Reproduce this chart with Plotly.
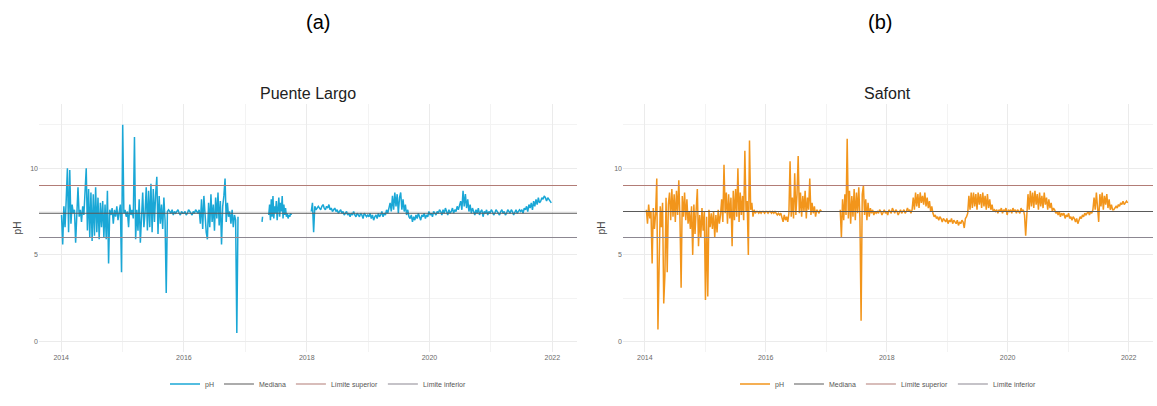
import pandas as pd
import plotly.graph_objects as go

# ---------------- data (weekly readings) ----------------
pl_seg1_start = "2014-01-03"
pl_seg1 = [7.3, 5.6, 7.8, 6.6, 8.2, 10.0, 6.3, 9.9, 6.8, 7.9,
           7.4, 7.6, 5.7, 7.5, 8.9, 7.2, 7.6, 6.9, 7.8, 7.3,
           8.4, 10.0,
           6.4, 8.8, 6.0, 8.6, 5.8, 8.5, 6.1, 8.9, 6.3, 8.3, 5.9, 8.0, 6.6,
           8.1, 6.0, 7.9, 5.9, 8.7, 4.5, 7.6,
           7.3, 7.7, 6.8, 7.6, 7.2, 7.8, 7.0, 7.5, 7.9, 4.0,
           12.5,
           7.4, 7.6, 7.2, 7.5, 6.6, 7.9, 7.3, 7.6, 7.1,
           11.8, 5.9,
           7.6, 6.4, 8.2, 5.7, 7.5, 8.6, 6.6, 7.4,
           8.9, 6.4, 8.7, 6.6, 9.1, 6.3, 8.8, 6.9, 8.5, 9.5, 6.2, 8.4, 6.8,
           7.9, 6.5, 8.3, 7.0, 2.8, 7.5, 7.6,
           7.5, 7.4, 7.6, 7.3, 7.5, 7.4, 7.5, 7.6, 7.4, 7.3, 7.5, 7.4,
           7.4, 7.5, 7.3, 7.4, 7.6, 7.5, 7.4, 7.3, 7.5, 7.4, 7.6, 7.5, 7.4,
           7.6, 6.8, 8.2, 6.5, 8.4, 7.0, 6.3, 5.9, 8.0, 6.6, 8.5, 6.9, 7.9, 6.4,
           8.3, 7.1, 8.6, 6.7, 8.1, 5.6, 7.8, 8.4, 9.4, 6.9, 8.0, 7.2, 7.5,
           6.8, 7.6, 6.6, 7.3, 7.0, 0.5, 7.2]
pl_seg2_start = "2017-04-10"
pl_seg2 = [6.9, 7.2]
pl_seg3_start = "2017-05-20"
pl_seg3 = [7.3, 7.9, 7.0, 8.2, 7.2, 8.4, 7.1, 7.8, 7.4, 8.1, 7.0, 7.6, 8.3, 7.2,
           8.0, 7.5, 8.4, 7.1, 7.9, 7.3, 7.7, 7.2, 7.4, 7.1, 7.3, 7.2, 7.4, 7.3]
pl_seg4_start = "2018-01-28"
pl_seg4 = [7.5, 8.0, 6.3, 7.8, 7.6, 7.7,
           7.8, 7.7, 7.6, 7.8, 7.9, 7.7, 7.6, 7.8, 7.7, 7.9, 7.6, 7.7, 7.5, 7.6,
           7.7, 7.5, 7.6, 7.4, 7.5, 7.6, 7.4, 7.5, 7.3, 7.4, 7.5, 7.3, 7.4, 7.2,
           7.4, 7.3, 7.5, 7.3, 7.2, 7.4, 7.3, 7.2, 7.4, 7.3, 7.1, 7.4, 7.3, 7.2,
           7.3, 7.2, 7.4, 7.1, 7.3, 7.0, 7.2, 7.3, 7.1, 7.4, 7.2, 7.3, 7.5, 7.2,
           7.4, 7.3, 7.6, 7.4, 7.7,
           8.0, 7.5, 8.4, 7.6, 8.6, 7.8, 8.5, 7.4, 8.3, 8.6, 7.6, 8.2, 7.5, 7.9,
           7.3, 7.6, 7.2,
           7.1, 7.3, 6.9, 7.2, 7.0, 7.3, 7.1, 7.4, 7.2, 7.0, 7.3, 7.2, 7.4, 7.1,
           7.3, 7.2, 7.5, 7.3, 7.4, 7.2, 7.5, 7.4, 7.3, 7.5, 7.4, 7.6,
           7.5, 7.3, 7.6, 7.4, 7.7, 7.5, 7.3, 7.6, 7.4, 7.5, 7.7, 7.4, 7.6, 7.5,
           7.8, 7.6, 7.9,
           8.1, 7.6, 8.7, 7.8, 8.5, 7.7, 8.2, 7.5, 7.9, 7.4, 7.7,
           7.5, 7.3, 7.6, 7.4, 7.7, 7.3, 7.5, 7.6, 7.2, 7.5, 7.4, 7.6, 7.3, 7.5,
           7.4, 7.6, 7.5, 7.3, 7.4, 7.6, 7.5, 7.4, 7.3, 7.5, 7.6, 7.4, 7.5, 7.3,
           7.4, 7.6, 7.5, 7.4, 7.6, 7.5, 7.3, 7.5, 7.6, 7.4, 7.5, 7.6,
           7.5, 7.6, 7.4, 7.7, 7.6, 7.8, 7.5, 7.9, 7.7, 8.0, 7.6, 8.1, 7.8, 8.2,
           7.9, 8.3, 8.0, 8.1, 8.3, 8.2, 8.4, 8.3, 8.1, 8.3, 8.2, 8.1, 8.0]

sf_seg1_start = "2014-01-10"
sf_seg1 = [7.6, 6.8, 7.9, 7.1, 7.5,
           4.5, 7.7, 6.5,
           7.4, 9.4, 0.7, 5.5, 7.8,
           6.6, 8.0, 2.2, 3.8, 8.3, 4.0, 7.9,
           8.6, 7.0, 8.8, 7.2, 8.5, 6.9, 8.7, 7.3, 9.3, 7.1, 3.1, 8.4,
           7.2, 8.6, 7.0, 8.2, 6.8, 7.5,
           6.5, 7.8, 5.0, 7.9, 6.2, 7.6, 8.8, 5.5, 7.3, 6.0, 7.7, 6.4, 7.5, 2.4,
           7.2, 2.6, 7.6, 6.6, 7.4,
           6.5, 7.5, 6.0, 7.3, 6.3, 7.6, 6.8,
           7.3, 8.2, 6.9, 10.2, 7.4, 8.6, 6.8, 8.5, 7.1, 8.3, 5.5, 8.7, 7.0,
           8.8, 7.2, 10.0, 6.9, 8.6, 7.3, 8.4, 7.0, 11.0, 7.5, 8.1, 5.0, 11.6,
           7.6, 8.0, 7.2, 7.6, 7.4, 7.5, 7.5, 7.4, 7.5, 7.4, 7.5, 7.5, 7.4, 7.5,
           7.5, 7.4, 7.5, 7.5, 7.4, 7.5, 7.4, 7.5, 7.4, 7.3, 7.4, 7.3, 7.4,
           7.1, 6.9, 7.3, 7.0, 7.2, 6.9,
           7.4, 10.4, 7.2, 8.3, 7.1, 9.7, 7.3, 8.5, 10.7, 7.4, 8.6, 7.2, 8.4,
           7.5, 8.7, 7.1, 8.3, 7.6, 9.4, 7.3, 8.0, 7.4, 7.8, 7.2, 7.6,
           7.5, 7.4, 7.6, 7.5]
sf_seg2_start = "2017-03-26"
sf_seg2 = [7.6, 6.0, 8.2, 7.0, 8.5, 7.3, 11.7, 7.1, 8.7, 6.8, 8.4, 7.2, 8.8, 7.0,
           8.6, 7.4, 8.9, 7.1, 1.2, 8.5, 9.0, 7.3, 8.2, 7.0, 8.0, 7.2, 7.7, 7.4,
           7.6, 7.3, 7.5, 7.4,
           7.5, 7.4, 7.6, 7.5, 7.3, 7.5, 7.6, 7.4, 7.5, 7.3, 7.6, 7.5, 7.4, 7.7,
           7.5, 7.4, 7.6, 7.5, 7.3, 7.5, 7.6, 7.4, 7.5, 7.6, 7.4, 7.5, 7.7, 7.5,
           7.6, 7.4, 7.6,
           8.3, 7.6, 8.6, 7.8, 8.5, 7.7, 8.6, 8.0, 8.4, 7.9, 8.6, 7.8, 8.3, 7.7,
           8.1, 7.5, 7.8,
           7.4, 7.2, 7.3, 7.1, 7.2, 7.0, 7.2, 7.1, 6.9, 7.1, 7.0, 6.9, 7.1, 6.8,
           7.0, 6.9, 7.1, 6.8, 7.0, 6.9, 6.8, 7.0, 6.7, 6.9, 6.8, 7.0, 6.9, 6.55,
           7.1, 7.2, 7.4,
           8.4, 7.6, 8.6, 7.7, 8.6, 7.8, 8.5, 7.6, 8.6, 7.9, 8.5, 7.7, 8.6, 7.8,
           8.4, 7.6, 8.5, 7.7, 8.2, 7.6, 7.9, 7.5, 7.6,
           7.5, 7.6, 7.4, 7.6, 7.5, 7.7, 7.4, 7.6, 7.5, 7.7, 7.3, 7.6, 7.5, 7.6,
           7.4, 7.7, 7.5, 7.6, 7.4, 7.6, 7.5, 7.4, 7.7, 7.5, 7.6, 7.3, 6.1, 7.5,
           8.5, 7.6, 8.7, 7.8, 8.6, 7.7, 8.7, 7.9, 8.5, 7.6, 8.6, 7.8, 8.4, 7.7,
           8.6, 7.9, 8.3, 7.6, 8.2, 7.7, 8.0, 7.5, 7.7,
           7.6, 7.4, 7.5, 7.3, 7.5, 7.2, 7.4, 7.3, 7.4, 7.1, 7.3, 7.2, 7.4, 7.1,
           7.2, 7.0, 7.2, 7.1, 6.9, 7.1, 6.8, 7.0, 7.2, 7.1, 7.3, 7.2, 7.4, 7.3,
           7.4, 7.5, 7.3, 7.5, 7.4, 7.6,
           8.3, 7.6, 8.6, 7.7, 6.9, 8.5, 7.8, 8.6, 7.6, 8.4, 7.9, 8.5, 7.7, 8.2,
           7.6, 7.9, 7.6,
           7.6, 7.7, 7.8, 7.7, 7.9, 7.8, 8.0, 7.9, 8.1, 7.9, 8.0, 8.1, 8.0]

stations = ["Puente Largo", "Safont"]
panel_labels = ["(a)", "(b)"]
medians = [7.4, 7.5]
upper_limit = [9.0, 9.0]
lower_limit = [6.0, 6.0]
legend_names = ["pH", "Mediana", "Límite superior", "Límite inferior"]
y_ticks = [0, 5, 10]
x_tick_years = ["2014", "2016", "2018", "2020", "2022"]

# ---------------- styling ----------------
W, H = 1157, 406
line_colors = ["#1AA7D6", "#F2951B"]
median_color = "#5A5A5A"
upper_color = "#B27C76"
lower_color = "#8C8791"
FONT = "Liberation Sans, Arial, sans-serif"


def build(segments):
    xs, ys = [], []
    for start, vals in segments:
        if xs:
            xs.append(None)
            ys.append(None)
        step = "7D" if len(vals) > 2 else "3D"
        if vals is pl_seg3:
            step = "5D"
        dates = pd.date_range(start, periods=len(vals), freq=step)
        xs.extend(list(dates))
        ys.extend(vals)
    return xs, ys


series = [
    build([(pl_seg1_start, pl_seg1), (pl_seg2_start, pl_seg2),
           (pl_seg3_start, pl_seg3), (pl_seg4_start, pl_seg4)]),
    build([(sf_seg1_start, sf_seg1), (sf_seg2_start, sf_seg2)]),
]

x_domains = [[39 / W, 577 / W], [623 / W, 1153 / W]]
y_domain = [1 - 352 / H, 1 - 104 / H]
x_range = ["2013-08-22", "2022-05-28"]
y_range = [-0.6, 13.7]

fig = go.Figure()
legend_keys = ["legend", "legend2"]
for i in range(2):
    xa = "x" if i == 0 else "x2"
    ya = "y" if i == 0 else "y2"
    xs, ys = series[i]
    fig.add_trace(go.Scatter(
        x=xs, y=ys, mode="lines", name=legend_names[0],
        line=dict(color=line_colors[i], width=1.5),
        xaxis=xa, yaxis=ya, legend=legend_keys[i], connectgaps=False,
    ))
    for val, col, nm in [(medians[i], median_color, legend_names[1]),
                         (upper_limit[i], upper_color, legend_names[2]),
                         (lower_limit[i], lower_color, legend_names[3])]:
        fig.add_shape(type="line", xref=f"{xa} domain", yref=ya,
                      x0=0, x1=1, y0=val, y1=val,
                      line=dict(color=col, width=1.1),
                      showlegend=True, name=nm, legend=legend_keys[i])

axis_common = dict(showline=False, zeroline=False, ticks="",
                   gridcolor="#EBEBEB", gridwidth=0.8,
                   tickfont=dict(size=7, color="#6A6A6A", family=FONT))
for i in range(2):
    xkey = "xaxis" if i == 0 else "xaxis2"
    ykey = "yaxis" if i == 0 else "yaxis2"
    fig.update_layout(**{
        xkey: dict(axis_common, domain=x_domains[i], anchor="y" if i == 0 else "y2",
                   type="date", range=x_range,
                   tickvals=[f"{y}-01-01" for y in x_tick_years], ticktext=x_tick_years,
                   minor=dict(dtick="M12", tick0="2013-01-01", showgrid=True,
                              gridcolor="#F3F3F3", gridwidth=0.6)),
        ykey: dict(axis_common, domain=y_domain, anchor="x" if i == 0 else "x2",
                   range=y_range, tickvals=y_ticks,
                   minor=dict(dtick=2.5, tick0=0, showgrid=True,
                              gridcolor="#F3F3F3", gridwidth=0.6),
                   title=dict(text="pH", font=dict(size=10, color="#444444", family=FONT),
                              standoff=6)),
    })

legend_style = dict(orientation="h", xanchor="center", yanchor="middle",
                    font=dict(size=7, color="#555555", family=FONT),
                    bgcolor="rgba(0,0,0,0)", itemwidth=30, tracegroupgap=0)
fig.update_layout(
    legend=dict(legend_style, x=318 / W, y=1 - 384 / H),
    legend2=dict(legend_style, x=888 / W, y=1 - 384 / H),
)

annotations = []
for i in range(2):
    cx = (x_domains[i][0] + x_domains[i][1]) / 2
    annotations.append(dict(text=stations[i], x=cx, y=1 - 93 / H, xref="paper", yref="paper",
                            showarrow=False, xanchor="center", yanchor="middle",
                            font=dict(size=16, color="#222222", family=FONT)))
annotations.append(dict(text=panel_labels[0], x=318 / W, y=1 - 22 / H, xref="paper", yref="paper",
                        showarrow=False, xanchor="center", yanchor="middle",
                        font=dict(size=20, color="#000000", family=FONT)))
annotations.append(dict(text=panel_labels[1], x=880 / W, y=1 - 22 / H, xref="paper", yref="paper",
                        showarrow=False, xanchor="center", yanchor="middle",
                        font=dict(size=20, color="#000000", family=FONT)))

fig.update_layout(
    width=W, height=H, margin=dict(l=0, r=0, t=0, b=0),
    paper_bgcolor="white", plot_bgcolor="white",
    annotations=annotations, font=dict(family=FONT),
)

fig.write_html("out.html")
